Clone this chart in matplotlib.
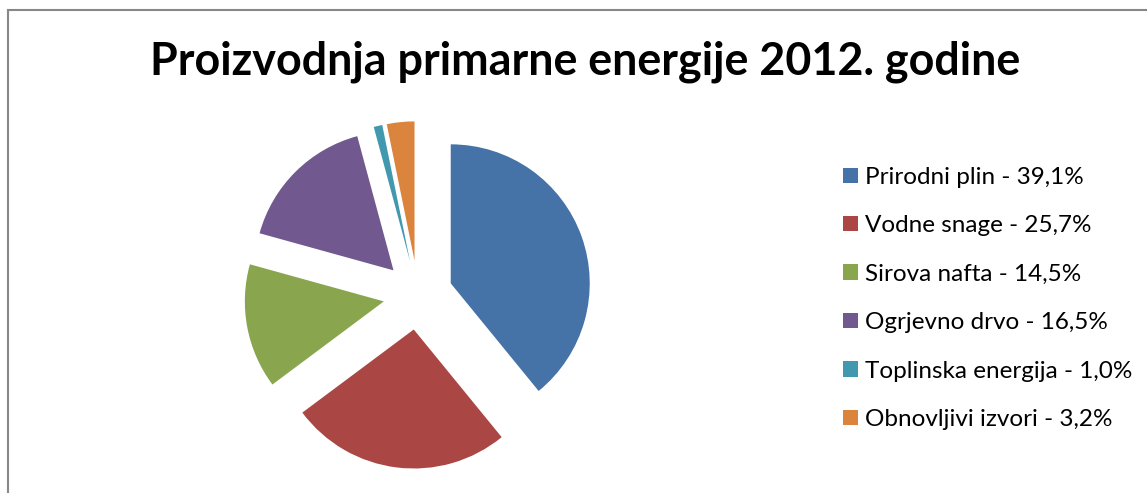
import matplotlib
matplotlib.use("Agg")
import matplotlib.pyplot as plt
from matplotlib.patches import Rectangle

# podaci
izvori = ["Prirodni plin", "Vodne snage", "Sirova nafta", "Ogrjevno drvo",
          "Toplinska energija", "Obnovljivi izvori"]
udjeli = [39.1, 25.7, 14.5, 16.5, 1.0, 3.2]
boje = ["#4572A7", "#AA4643", "#89A54E", "#71588F", "#4198AF", "#DB843D"]

W, H = 1147, 493
fig = plt.figure(figsize=(W / 100, H / 100), dpi=100)

# okvir grafikona
fig.patches.append(Rectangle((8 / W, -0.1), 2, (H - 10) / H + 0.1,
                             transform=fig.transFigure, fill=False,
                             edgecolor="#878787", linewidth=1.5))

# pita: centar (418, 295) px, radijus 139 px
cx, cy, r = 418, 295, 139
half = 1.3 * r
ax = fig.add_axes([(cx - half) / W, (H - cy - half) / H, 2 * half / W, 2 * half / H])
oznake = [f"{n} - {v:.1f}%".replace(".", ",") for n, v in zip(izvori, udjeli)]
klinovi, _ = ax.pie(udjeli, colors=boje, startangle=90, counterclock=False,
                    explode=[0.25] * len(udjeli))
ax.set_xlim(-1.3, 1.3)
ax.set_ylim(-1.3, 1.3)
ax.axis("off")

fig.text(585 / W, 1 - 62 / H, "Proizvodnja primarne energije 2012. godine",
         ha="center", va="center", fontsize=32.3, fontweight="bold",
         family="Lato")

fig.legend(klinovi, oznake, loc="center left",
           bbox_to_anchor=(843 / W, (H - 298.5) / H), frameon=False,
           handlelength=0.6, handleheight=0.6,
           handletextpad=0.3, labelspacing=1.13, borderpad=0,
           borderaxespad=0, prop={"family": "Lato", "size": 17.5})

fig.savefig("out.png", dpi=100)
